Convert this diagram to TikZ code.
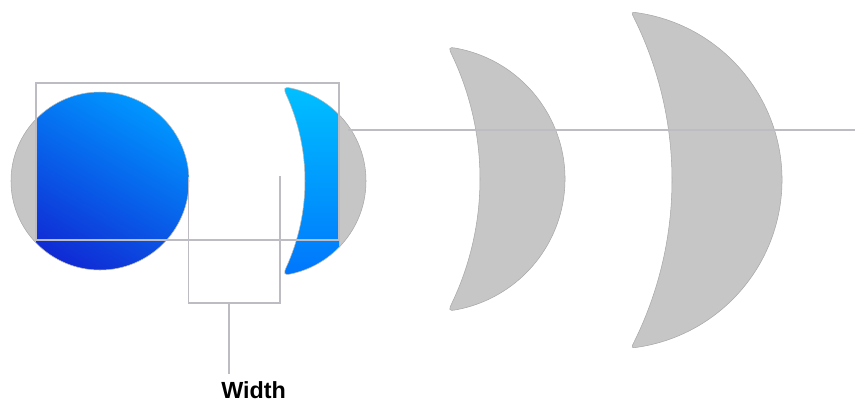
\documentclass[tikz,border=0pt]{standalone}
\usepackage{fontspec}
\setmainfont{Liberation Sans}
\usepackage{tikz}
\usetikzlibrary{
  calc,
  positioning
}
\definecolor{ShapeGray}{RGB}{198,198,198}
\definecolor{EdgeGray}{RGB}{168,168,168}
\definecolor{GuideGray}{RGB}{188,188,194}
\definecolor{DeepBlue}{RGB}{16,42,212}
\definecolor{MidBlue}{RGB}{0,108,255}
\definecolor{BrightBlue}{RGB}{0,150,255}
\definecolor{SkyCyan}{RGB}{0,192,255}
\definecolor{CrescentBlue}{RGB}{0,118,252}
\tikzset{
  grayshape/.style={fill=ShapeGray,draw=EdgeGray,line width=0.4pt},
  blueedge/.style={draw=EdgeGray!80,line width=0.4pt},
  guide/.style={draw=GuideGray,line width=1.3pt},
  label/.style={font=\fontsize{17.5}{19}\selectfont\bfseries,inner sep=0pt}
}
\begin{document}
\begin{tikzpicture}[x=0.75pt,y=-0.75pt]
  \useasboundingbox (0,0) rectangle (855,401);

  % start points of the crescents (top end of outer arc)
  \coordinate (moonA) at ($(271,181)+(-78:95)$);
  \coordinate (moonB) at ($(432,179)+(-79.5:133)$);
  \coordinate (moonC) at ($(613,180)+(-81:169)$);

  % gray parts outside the frame
  \begin{scope}
    \clip (0,0) rectangle (36,401);
    \filldraw[grayshape] (100,181) circle[radius=89];
  \end{scope}
  \begin{scope}
    \clip (339,0) rectangle (855,401);
    \filldraw[grayshape] (271,181) circle[radius=95];
  \end{scope}

  % blue shapes inside the frame
  \begin{scope}
    \clip (36,0) rectangle (339,401);
    \shade[top color=BrightBlue,middle color=MidBlue,bottom color=DeepBlue,shading angle=-30]
      (100,181) circle[radius=89];
    \draw[blueedge] (100,181) circle[radius=89];
    \shade[top color=SkyCyan,bottom color=CrescentBlue,blueedge]
      (moonA) arc[start angle=-78,end angle=78,radius=95]
      .. controls +(168:7) and +(114.5:7) .. ($(97,181)+(24.5:208)$)
      arc[start angle=24.5,end angle=-24.5,radius=208]
      .. controls +(-114.5:7) and +(-168:7) .. (moonA) -- cycle;
  \end{scope}

  % gray crescents
  \filldraw[grayshape]
    (moonB) arc[start angle=-79.5,end angle=79.5,radius=133]
    .. controls +(169.5:8.5) and +(115.3:8.5) .. ($(191.75,179)+(25.3:288.25)$)
    arc[start angle=25.3,end angle=-25.3,radius=288.25]
    .. controls +(-115.3:8.5) and +(-169.5:8.5) .. (moonB) -- cycle;
  \filldraw[grayshape]
    (moonC) arc[start angle=-81,end angle=81,radius=169]
    .. controls +(171:9.5) and +(116:9.5) .. ($(307.3,180)+(26:364.7)$)
    arc[start angle=26,end angle=-26,radius=364.7]
    .. controls +(-116:9.5) and +(-171:9.5) .. (moonC) -- cycle;

  % frame, bracket and guide lines
  \draw[guide] (36,83) rectangle (339,240);
  \coordinate (bracketL) at (188.5,177);
  \coordinate (bracketR) at (280,176);
  \coordinate (stemtop) at (229,303);
  \coordinate (stemend) at (229,374);
  \draw[guide] (bracketL) -- (bracketL |- stemtop) -- (bracketR |- stemtop) -- (bracketR);
  \draw[guide] (stemtop) -- (stemend);
  \coordinate (axisL) at (348,130);
  \coordinate (axisR) at (855,130);
  \draw[guide] (axisL) -- (axisR);

  \node[label,anchor=base west] (widthlabel) at (221,398) {Width};
\end{tikzpicture}
\end{document}
